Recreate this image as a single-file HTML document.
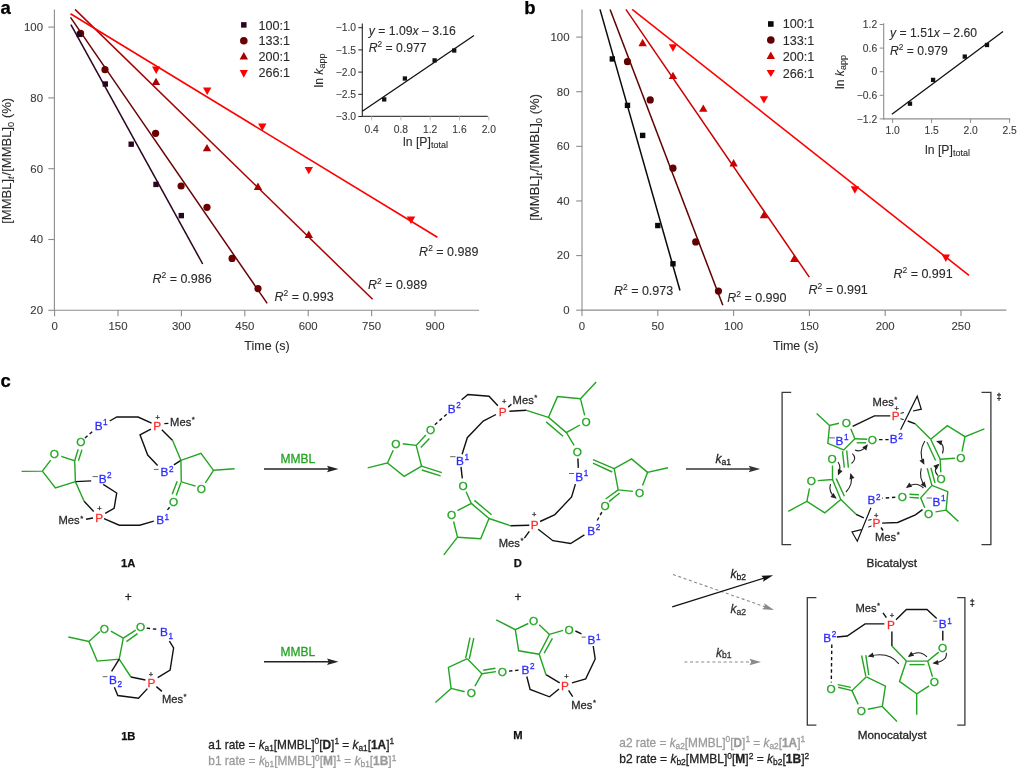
<!DOCTYPE html><html><head><meta charset="utf-8"><style>html,body{margin:0;padding:0;background:#fff;}svg{display:block;will-change:transform;}text{font-family:"Liberation Sans", sans-serif;}</style></head><body>
<svg width="1017" height="768" viewBox="0 0 1017 768">
<rect width="1017" height="768" fill="#fff"/>
<text x="0.5" y="14" font-size="18.5" fill="#000" text-anchor="start" font-weight="bold" font-style="normal" stroke="#000" stroke-width="0.25">a</text>
<polyline points="54.4,9.5 54.4,310.8" fill="none" stroke="#8c8c8c" stroke-width="1.1" stroke-linecap="butt" stroke-linejoin="miter"/>
<polyline points="53.9,310.3 479,310.3" fill="none" stroke="#8c8c8c" stroke-width="1.1" stroke-linecap="butt" stroke-linejoin="miter"/>
<polyline points="48.3,27.1 54.4,27.1" fill="none" stroke="#8c8c8c" stroke-width="1.1" stroke-linecap="butt" stroke-linejoin="miter"/>
<text x="43" y="31" font-size="11.4" fill="#3a3a3a" text-anchor="end" font-weight="normal" font-style="normal" stroke="#3a3a3a" stroke-width="0.1">100</text>
<polyline points="48.3,97.9 54.4,97.9" fill="none" stroke="#8c8c8c" stroke-width="1.1" stroke-linecap="butt" stroke-linejoin="miter"/>
<text x="43" y="101.8" font-size="11.4" fill="#3a3a3a" text-anchor="end" font-weight="normal" font-style="normal" stroke="#3a3a3a" stroke-width="0.1">80</text>
<polyline points="48.3,168.7 54.4,168.7" fill="none" stroke="#8c8c8c" stroke-width="1.1" stroke-linecap="butt" stroke-linejoin="miter"/>
<text x="43" y="172.6" font-size="11.4" fill="#3a3a3a" text-anchor="end" font-weight="normal" font-style="normal" stroke="#3a3a3a" stroke-width="0.1">60</text>
<polyline points="48.3,239.5 54.4,239.5" fill="none" stroke="#8c8c8c" stroke-width="1.1" stroke-linecap="butt" stroke-linejoin="miter"/>
<text x="43" y="243.4" font-size="11.4" fill="#3a3a3a" text-anchor="end" font-weight="normal" font-style="normal" stroke="#3a3a3a" stroke-width="0.1">40</text>
<polyline points="48.3,310.3 54.4,310.3" fill="none" stroke="#8c8c8c" stroke-width="1.1" stroke-linecap="butt" stroke-linejoin="miter"/>
<text x="43" y="314.2" font-size="11.4" fill="#3a3a3a" text-anchor="end" font-weight="normal" font-style="normal" stroke="#3a3a3a" stroke-width="0.1">20</text>
<polyline points="54.6,310.3 54.6,316.3" fill="none" stroke="#8c8c8c" stroke-width="1.1" stroke-linecap="butt" stroke-linejoin="miter"/>
<text x="54.6" y="330.2" font-size="11.4" fill="#3a3a3a" text-anchor="middle" font-weight="normal" font-style="normal" stroke="#3a3a3a" stroke-width="0.1">0</text>
<polyline points="118,310.3 118,316.3" fill="none" stroke="#8c8c8c" stroke-width="1.1" stroke-linecap="butt" stroke-linejoin="miter"/>
<text x="118" y="330.2" font-size="11.4" fill="#3a3a3a" text-anchor="middle" font-weight="normal" font-style="normal" stroke="#3a3a3a" stroke-width="0.1">150</text>
<polyline points="181.41,310.3 181.41,316.3" fill="none" stroke="#8c8c8c" stroke-width="1.1" stroke-linecap="butt" stroke-linejoin="miter"/>
<text x="181.41" y="330.2" font-size="11.4" fill="#3a3a3a" text-anchor="middle" font-weight="normal" font-style="normal" stroke="#3a3a3a" stroke-width="0.1">300</text>
<polyline points="244.81,310.3 244.81,316.3" fill="none" stroke="#8c8c8c" stroke-width="1.1" stroke-linecap="butt" stroke-linejoin="miter"/>
<text x="244.81" y="330.2" font-size="11.4" fill="#3a3a3a" text-anchor="middle" font-weight="normal" font-style="normal" stroke="#3a3a3a" stroke-width="0.1">450</text>
<polyline points="308.22,310.3 308.22,316.3" fill="none" stroke="#8c8c8c" stroke-width="1.1" stroke-linecap="butt" stroke-linejoin="miter"/>
<text x="308.22" y="330.2" font-size="11.4" fill="#3a3a3a" text-anchor="middle" font-weight="normal" font-style="normal" stroke="#3a3a3a" stroke-width="0.1">600</text>
<polyline points="371.63,310.3 371.63,316.3" fill="none" stroke="#8c8c8c" stroke-width="1.1" stroke-linecap="butt" stroke-linejoin="miter"/>
<text x="371.63" y="330.2" font-size="11.4" fill="#3a3a3a" text-anchor="middle" font-weight="normal" font-style="normal" stroke="#3a3a3a" stroke-width="0.1">750</text>
<polyline points="435.03,310.3 435.03,316.3" fill="none" stroke="#8c8c8c" stroke-width="1.1" stroke-linecap="butt" stroke-linejoin="miter"/>
<text x="435.03" y="330.2" font-size="11.4" fill="#3a3a3a" text-anchor="middle" font-weight="normal" font-style="normal" stroke="#3a3a3a" stroke-width="0.1">900</text>
<text x="267" y="349.8" font-size="12.5" fill="#2a2a2a" text-anchor="middle" font-weight="normal" font-style="normal" stroke="#2a2a2a" stroke-width="0.1">Time (s)</text>
<text transform="translate(11.4,160.8) rotate(-90)" font-size="12.6" fill="#2a2a2a" text-anchor="middle" textLength="126" lengthAdjust="spacingAndGlyphs" stroke="#2a2a2a" stroke-width="0.1">[MMBL]<tspan font-size="9" font-style="italic" dy="2.5">t</tspan><tspan dy="-2.5" dx="0.8">/[MMBL]</tspan><tspan font-size="9" dy="2.5">0</tspan><tspan dy="-2.5"> (%)</tspan></text>
<polyline points="70.9,24.6 202.7,264" fill="none" stroke="#2a0520" stroke-width="1.5" stroke-linecap="butt" stroke-linejoin="miter"/>
<polyline points="70.5,17.3 267.2,303.4" fill="none" stroke="#6a0000" stroke-width="1.5" stroke-linecap="butt" stroke-linejoin="miter"/>
<polyline points="75,9.4 372.6,299.3" fill="none" stroke="#a80000" stroke-width="1.5" stroke-linecap="butt" stroke-linejoin="miter"/>
<polyline points="70.5,13.8 437.4,237.3" fill="none" stroke="#ff0000" stroke-width="1.6" stroke-linecap="butt" stroke-linejoin="miter"/>
<circle cx="80.6" cy="33.4" r="3.6" fill="#6a0000"/>
<circle cx="105" cy="69.7" r="3.6" fill="#6a0000"/>
<circle cx="155.6" cy="133.3" r="3.6" fill="#6a0000"/>
<circle cx="181.1" cy="186" r="3.6" fill="#6a0000"/>
<circle cx="207" cy="207.3" r="3.6" fill="#6a0000"/>
<circle cx="232.1" cy="258.4" r="3.6" fill="#6a0000"/>
<circle cx="258" cy="288.6" r="3.6" fill="#6a0000"/>
<rect x="76.6" y="31.7" width="5.4" height="5.4" fill="#2a0520"/>
<rect x="102.6" y="81.3" width="5.4" height="5.4" fill="#2a0520"/>
<rect x="128.5" y="141.5" width="5.4" height="5.4" fill="#2a0520"/>
<rect x="153.3" y="181.7" width="5.4" height="5.4" fill="#2a0520"/>
<rect x="178.6" y="212.9" width="5.4" height="5.4" fill="#2a0520"/>
<polygon points="151.8,85.1 160.2,85.1 156,77.7" fill="#a80000"/>
<polygon points="202.8,151.3 211.2,151.3 207,143.9" fill="#a80000"/>
<polygon points="253.8,189.9 262.2,189.9 258,182.5" fill="#a80000"/>
<polygon points="304.6,237.9 313,237.9 308.8,230.5" fill="#a80000"/>
<polygon points="152,66.5 160.4,66.5 156.2,73.9" fill="#ff0000"/>
<polygon points="203,87.5 211.4,87.5 207.2,94.9" fill="#ff0000"/>
<polygon points="258.1,123.6 266.5,123.6 262.3,131" fill="#ff0000"/>
<polygon points="304.6,166.9 313,166.9 308.8,174.3" fill="#ff0000"/>
<polygon points="406.8,216.6 415.2,216.6 411,224" fill="#ff0000"/>
<text x="152.4" y="283.2" font-size="12.5" fill="#2a2a2a" stroke="#2a2a2a" stroke-width="0.1"><tspan font-style="italic">R</tspan><tspan font-size="8.5" dy="-5">2</tspan><tspan dy="5"> = 0.986</tspan></text>
<text x="274.4" y="301.3" font-size="12.5" fill="#2a2a2a" stroke="#2a2a2a" stroke-width="0.1"><tspan font-style="italic">R</tspan><tspan font-size="8.5" dy="-5">2</tspan><tspan dy="5"> = 0.993</tspan></text>
<text x="367.9" y="288.7" font-size="12.5" fill="#2a2a2a" stroke="#2a2a2a" stroke-width="0.1"><tspan font-style="italic">R</tspan><tspan font-size="8.5" dy="-5">2</tspan><tspan dy="5"> = 0.989</tspan></text>
<text x="419.1" y="256.3" font-size="12.5" fill="#2a2a2a" stroke="#2a2a2a" stroke-width="0.1"><tspan font-style="italic">R</tspan><tspan font-size="8.5" dy="-5">2</tspan><tspan dy="5"> = 0.989</tspan></text>
<rect x="241.05" y="22.15" width="5.5" height="5.5" fill="#2a0520"/>
<circle cx="243.8" cy="40.7" r="3.8" fill="#6a0000"/>
<polygon points="239.6,59.6 248,59.6 243.8,52" fill="#a80000"/>
<polygon points="239.7,70.1 247.9,70.1 243.8,77.7" fill="#ff0000"/>
<text x="258.6" y="29.6" font-size="12.6" fill="#2a2a2a" text-anchor="start" font-weight="normal" font-style="normal" stroke="#2a2a2a" stroke-width="0.1">100:1</text>
<text x="258.6" y="45.4" font-size="12.6" fill="#2a2a2a" text-anchor="start" font-weight="normal" font-style="normal" stroke="#2a2a2a" stroke-width="0.1">133:1</text>
<text x="258.6" y="61.2" font-size="12.6" fill="#2a2a2a" text-anchor="start" font-weight="normal" font-style="normal" stroke="#2a2a2a" stroke-width="0.1">200:1</text>
<text x="258.6" y="77" font-size="12.6" fill="#2a2a2a" text-anchor="start" font-weight="normal" font-style="normal" stroke="#2a2a2a" stroke-width="0.1">266:1</text>
<polyline points="362.3,23.4 362.3,116.9" fill="none" stroke="#222" stroke-width="1.1" stroke-linecap="butt" stroke-linejoin="miter"/>
<polyline points="361.8,116.4 487.8,116.4" fill="none" stroke="#444" stroke-width="1.1" stroke-linecap="butt" stroke-linejoin="miter"/>
<polyline points="358.3,27.7 362.3,27.7" fill="none" stroke="#222" stroke-width="1" stroke-linecap="butt" stroke-linejoin="miter"/>
<text x="356" y="31.3" font-size="10.3" fill="#3a3a3a" text-anchor="end" font-weight="normal" font-style="normal" stroke="#3a3a3a" stroke-width="0.1">−1.0</text>
<polyline points="358.3,49.9 362.3,49.9" fill="none" stroke="#222" stroke-width="1" stroke-linecap="butt" stroke-linejoin="miter"/>
<text x="356" y="53.5" font-size="10.3" fill="#3a3a3a" text-anchor="end" font-weight="normal" font-style="normal" stroke="#3a3a3a" stroke-width="0.1">−1.5</text>
<polyline points="358.3,72.1 362.3,72.1" fill="none" stroke="#222" stroke-width="1" stroke-linecap="butt" stroke-linejoin="miter"/>
<text x="356" y="75.7" font-size="10.3" fill="#3a3a3a" text-anchor="end" font-weight="normal" font-style="normal" stroke="#3a3a3a" stroke-width="0.1">−2.0</text>
<polyline points="358.3,94.3 362.3,94.3" fill="none" stroke="#222" stroke-width="1" stroke-linecap="butt" stroke-linejoin="miter"/>
<text x="356" y="97.9" font-size="10.3" fill="#3a3a3a" text-anchor="end" font-weight="normal" font-style="normal" stroke="#3a3a3a" stroke-width="0.1">−2.5</text>
<polyline points="358.3,116.5 362.3,116.5" fill="none" stroke="#222" stroke-width="1" stroke-linecap="butt" stroke-linejoin="miter"/>
<text x="356" y="120.1" font-size="10.3" fill="#3a3a3a" text-anchor="end" font-weight="normal" font-style="normal" stroke="#3a3a3a" stroke-width="0.1">−3.0</text>
<polyline points="371.6,116.4 371.6,120.4" fill="none" stroke="#bbb" stroke-width="1" stroke-linecap="butt" stroke-linejoin="miter"/>
<text x="371.6" y="132.8" font-size="10.3" fill="#3a3a3a" text-anchor="middle" font-weight="normal" font-style="normal" stroke="#3a3a3a" stroke-width="0.1">0.4</text>
<polyline points="400.9,116.4 400.9,120.4" fill="none" stroke="#bbb" stroke-width="1" stroke-linecap="butt" stroke-linejoin="miter"/>
<text x="400.9" y="132.8" font-size="10.3" fill="#3a3a3a" text-anchor="middle" font-weight="normal" font-style="normal" stroke="#3a3a3a" stroke-width="0.1">0.8</text>
<polyline points="430.2,116.4 430.2,120.4" fill="none" stroke="#bbb" stroke-width="1" stroke-linecap="butt" stroke-linejoin="miter"/>
<text x="430.2" y="132.8" font-size="10.3" fill="#3a3a3a" text-anchor="middle" font-weight="normal" font-style="normal" stroke="#3a3a3a" stroke-width="0.1">1.2</text>
<polyline points="459.5,116.4 459.5,120.4" fill="none" stroke="#bbb" stroke-width="1" stroke-linecap="butt" stroke-linejoin="miter"/>
<text x="459.5" y="132.8" font-size="10.3" fill="#3a3a3a" text-anchor="middle" font-weight="normal" font-style="normal" stroke="#3a3a3a" stroke-width="0.1">1.6</text>
<polyline points="488.8,116.4 488.8,120.4" fill="none" stroke="#bbb" stroke-width="1" stroke-linecap="butt" stroke-linejoin="miter"/>
<text x="488.8" y="132.8" font-size="10.3" fill="#3a3a3a" text-anchor="middle" font-weight="normal" font-style="normal" stroke="#3a3a3a" stroke-width="0.1">2.0</text>
<polyline points="362.3,111.2 474,35.5" fill="none" stroke="#111" stroke-width="1.3" stroke-linecap="butt" stroke-linejoin="miter"/>
<rect x="382.05" y="97.25" width="4.3" height="4.3" fill="#111"/>
<rect x="402.75" y="76.35" width="4.3" height="4.3" fill="#111"/>
<rect x="432.45" y="58.25" width="4.3" height="4.3" fill="#111"/>
<rect x="452.05" y="48.35" width="4.3" height="4.3" fill="#111"/>
<text x="368.8" y="34.6" font-size="12.2" fill="#2a2a2a" stroke="#2a2a2a" stroke-width="0.1"><tspan font-style="italic">y</tspan> = 1.09<tspan font-style="italic">x</tspan> – 3.16</text>
<text x="368.8" y="52.4" font-size="12.2" fill="#2a2a2a" stroke="#2a2a2a" stroke-width="0.1"><tspan font-style="italic">R</tspan><tspan font-size="8.3" dy="-5">2</tspan><tspan dy="5"> = 0.977</tspan></text>
<text transform="translate(322.5,70.5) rotate(-90)" font-size="12.2" fill="#2a2a2a" text-anchor="middle" stroke="#2a2a2a" stroke-width="0.1">ln <tspan font-style="italic">k</tspan><tspan font-size="9" dy="2.5">app</tspan></text>
<text x="425.5" y="145.8" font-size="12.2" fill="#2a2a2a" text-anchor="middle" stroke="#2a2a2a" stroke-width="0.1">ln [P]<tspan font-size="9" dy="2.5">total</tspan></text>
<text x="524.2" y="14.2" font-size="18.5" fill="#000" text-anchor="start" font-weight="bold" font-style="normal" stroke="#000" stroke-width="0.25">b</text>
<polyline points="582,9.4 582,310.6" fill="none" stroke="#8c8c8c" stroke-width="1.1" stroke-linecap="butt" stroke-linejoin="miter"/>
<polyline points="581.5,310.1 1006.4,310.1" fill="none" stroke="#8c8c8c" stroke-width="1.1" stroke-linecap="butt" stroke-linejoin="miter"/>
<polyline points="576.2,37.1 582,37.1" fill="none" stroke="#8c8c8c" stroke-width="1.1" stroke-linecap="butt" stroke-linejoin="miter"/>
<text x="569.5" y="41" font-size="11.4" fill="#3a3a3a" text-anchor="end" font-weight="normal" font-style="normal" stroke="#3a3a3a" stroke-width="0.1">100</text>
<polyline points="576.2,91.72 582,91.72" fill="none" stroke="#8c8c8c" stroke-width="1.1" stroke-linecap="butt" stroke-linejoin="miter"/>
<text x="569.5" y="95.62" font-size="11.4" fill="#3a3a3a" text-anchor="end" font-weight="normal" font-style="normal" stroke="#3a3a3a" stroke-width="0.1">80</text>
<polyline points="576.2,146.34 582,146.34" fill="none" stroke="#8c8c8c" stroke-width="1.1" stroke-linecap="butt" stroke-linejoin="miter"/>
<text x="569.5" y="150.24" font-size="11.4" fill="#3a3a3a" text-anchor="end" font-weight="normal" font-style="normal" stroke="#3a3a3a" stroke-width="0.1">60</text>
<polyline points="576.2,200.96 582,200.96" fill="none" stroke="#8c8c8c" stroke-width="1.1" stroke-linecap="butt" stroke-linejoin="miter"/>
<text x="569.5" y="204.86" font-size="11.4" fill="#3a3a3a" text-anchor="end" font-weight="normal" font-style="normal" stroke="#3a3a3a" stroke-width="0.1">40</text>
<polyline points="576.2,255.58 582,255.58" fill="none" stroke="#8c8c8c" stroke-width="1.1" stroke-linecap="butt" stroke-linejoin="miter"/>
<text x="569.5" y="259.48" font-size="11.4" fill="#3a3a3a" text-anchor="end" font-weight="normal" font-style="normal" stroke="#3a3a3a" stroke-width="0.1">20</text>
<polyline points="576.2,310.2 582,310.2" fill="none" stroke="#8c8c8c" stroke-width="1.1" stroke-linecap="butt" stroke-linejoin="miter"/>
<text x="569.5" y="314.1" font-size="11.4" fill="#3a3a3a" text-anchor="end" font-weight="normal" font-style="normal" stroke="#3a3a3a" stroke-width="0.1">0</text>
<polyline points="582,310.1 582,316.1" fill="none" stroke="#8c8c8c" stroke-width="1.1" stroke-linecap="butt" stroke-linejoin="miter"/>
<text x="582" y="330.2" font-size="11.4" fill="#3a3a3a" text-anchor="middle" font-weight="normal" font-style="normal" stroke="#3a3a3a" stroke-width="0.1">0</text>
<polyline points="657.8,310.1 657.8,316.1" fill="none" stroke="#8c8c8c" stroke-width="1.1" stroke-linecap="butt" stroke-linejoin="miter"/>
<text x="657.8" y="330.2" font-size="11.4" fill="#3a3a3a" text-anchor="middle" font-weight="normal" font-style="normal" stroke="#3a3a3a" stroke-width="0.1">50</text>
<polyline points="733.6,310.1 733.6,316.1" fill="none" stroke="#8c8c8c" stroke-width="1.1" stroke-linecap="butt" stroke-linejoin="miter"/>
<text x="733.6" y="330.2" font-size="11.4" fill="#3a3a3a" text-anchor="middle" font-weight="normal" font-style="normal" stroke="#3a3a3a" stroke-width="0.1">100</text>
<polyline points="809.4,310.1 809.4,316.1" fill="none" stroke="#8c8c8c" stroke-width="1.1" stroke-linecap="butt" stroke-linejoin="miter"/>
<text x="809.4" y="330.2" font-size="11.4" fill="#3a3a3a" text-anchor="middle" font-weight="normal" font-style="normal" stroke="#3a3a3a" stroke-width="0.1">150</text>
<polyline points="885.2,310.1 885.2,316.1" fill="none" stroke="#8c8c8c" stroke-width="1.1" stroke-linecap="butt" stroke-linejoin="miter"/>
<text x="885.2" y="330.2" font-size="11.4" fill="#3a3a3a" text-anchor="middle" font-weight="normal" font-style="normal" stroke="#3a3a3a" stroke-width="0.1">200</text>
<polyline points="961,310.1 961,316.1" fill="none" stroke="#8c8c8c" stroke-width="1.1" stroke-linecap="butt" stroke-linejoin="miter"/>
<text x="961" y="330.2" font-size="11.4" fill="#3a3a3a" text-anchor="middle" font-weight="normal" font-style="normal" stroke="#3a3a3a" stroke-width="0.1">250</text>
<text x="795.7" y="350" font-size="12.5" fill="#2a2a2a" text-anchor="middle" font-weight="normal" font-style="normal" stroke="#2a2a2a" stroke-width="0.1">Time (s)</text>
<text transform="translate(539.3,157.3) rotate(-90)" font-size="12.6" fill="#2a2a2a" text-anchor="middle" textLength="127" lengthAdjust="spacingAndGlyphs" stroke="#2a2a2a" stroke-width="0.1">[MMBL]<tspan font-size="9" font-style="italic" dy="2.5">t</tspan><tspan dy="-2.5" dx="0.8">/[MMBL]</tspan><tspan font-size="9" dy="2.5">0</tspan><tspan dy="-2.5"> (%)</tspan></text>
<polyline points="600,9.4 680,290.5" fill="none" stroke="#0a0a0a" stroke-width="1.5" stroke-linecap="butt" stroke-linejoin="miter"/>
<polyline points="610.1,9.4 722.8,305.3" fill="none" stroke="#600000" stroke-width="1.5" stroke-linecap="butt" stroke-linejoin="miter"/>
<polyline points="625.9,9.4 809.3,277.2" fill="none" stroke="#c80000" stroke-width="1.5" stroke-linecap="butt" stroke-linejoin="miter"/>
<polyline points="632.2,9.4 969,275.4" fill="none" stroke="#ff0000" stroke-width="1.6" stroke-linecap="butt" stroke-linejoin="miter"/>
<rect x="609.62" y="56.25" width="5.4" height="5.4" fill="#0a0a0a"/>
<rect x="624.78" y="102.67" width="5.4" height="5.4" fill="#0a0a0a"/>
<rect x="639.94" y="132.72" width="5.4" height="5.4" fill="#0a0a0a"/>
<rect x="655.1" y="222.84" width="5.4" height="5.4" fill="#0a0a0a"/>
<rect x="670.26" y="261.07" width="5.4" height="5.4" fill="#0a0a0a"/>
<circle cx="627.48" cy="61.68" r="3.6" fill="#600000"/>
<circle cx="650.22" cy="99.91" r="3.6" fill="#600000"/>
<circle cx="672.96" cy="168.19" r="3.6" fill="#600000"/>
<circle cx="695.7" cy="241.92" r="3.6" fill="#600000"/>
<circle cx="718.44" cy="291.08" r="3.6" fill="#600000"/>
<polygon points="638.44,46.26 646.84,46.26 642.64,38.86" fill="#c80000"/>
<polygon points="668.76,79.03 677.16,79.03 672.96,71.63" fill="#c80000"/>
<polygon points="699.08,111.81 707.48,111.81 703.28,104.41" fill="#c80000"/>
<polygon points="729.4,166.43 737.8,166.43 733.6,159.03" fill="#c80000"/>
<polygon points="759.72,218.31 768.12,218.31 763.92,210.91" fill="#c80000"/>
<polygon points="790.04,262.01 798.44,262.01 794.24,254.61" fill="#c80000"/>
<polygon points="668.76,44.32 677.16,44.32 672.96,51.72" fill="#ff0000"/>
<polygon points="759.72,96.21 768.12,96.21 763.92,103.61" fill="#ff0000"/>
<polygon points="850.68,186.34 859.08,186.34 854.88,193.74" fill="#ff0000"/>
<polygon points="941.64,254.61 950.04,254.61 945.84,262.01" fill="#ff0000"/>
<text x="613.9" y="295" font-size="12.5" fill="#2a2a2a" stroke="#2a2a2a" stroke-width="0.1"><tspan font-style="italic">R</tspan><tspan font-size="8.5" dy="-5">2</tspan><tspan dy="5"> = 0.973</tspan></text>
<text x="727.2" y="302.3" font-size="12.5" fill="#2a2a2a" stroke="#2a2a2a" stroke-width="0.1"><tspan font-style="italic">R</tspan><tspan font-size="8.5" dy="-5">2</tspan><tspan dy="5"> = 0.990</tspan></text>
<text x="808.5" y="294.4" font-size="12.5" fill="#2a2a2a" stroke="#2a2a2a" stroke-width="0.1"><tspan font-style="italic">R</tspan><tspan font-size="8.5" dy="-5">2</tspan><tspan dy="5"> = 0.991</tspan></text>
<text x="893.4" y="278.3" font-size="12.5" fill="#2a2a2a" stroke="#2a2a2a" stroke-width="0.1"><tspan font-style="italic">R</tspan><tspan font-size="8.5" dy="-5">2</tspan><tspan dy="5"> = 0.991</tspan></text>
<rect x="768" y="21.2" width="5.6" height="5.6" fill="#0a0a0a"/>
<circle cx="770.8" cy="40" r="3.8" fill="#600000"/>
<polygon points="766.6,59.1 775,59.1 770.8,51.5" fill="#c80000"/>
<polygon points="766.6,69.9 775,69.9 770.8,76.9" fill="#ff0000"/>
<text x="782.7" y="28.4" font-size="12.6" fill="#2a2a2a" text-anchor="start" font-weight="normal" font-style="normal" stroke="#2a2a2a" stroke-width="0.1">100:1</text>
<text x="782.7" y="44.8" font-size="12.6" fill="#2a2a2a" text-anchor="start" font-weight="normal" font-style="normal" stroke="#2a2a2a" stroke-width="0.1">133:1</text>
<text x="782.7" y="61.2" font-size="12.6" fill="#2a2a2a" text-anchor="start" font-weight="normal" font-style="normal" stroke="#2a2a2a" stroke-width="0.1">200:1</text>
<text x="782.7" y="77.6" font-size="12.6" fill="#2a2a2a" text-anchor="start" font-weight="normal" font-style="normal" stroke="#2a2a2a" stroke-width="0.1">266:1</text>
<polyline points="883.7,23.3 883.7,119.4" fill="none" stroke="#8c8c8c" stroke-width="1.1" stroke-linecap="butt" stroke-linejoin="miter"/>
<polyline points="883.2,118.9 1010.2,118.9" fill="none" stroke="#8c8c8c" stroke-width="1.1" stroke-linecap="butt" stroke-linejoin="miter"/>
<polyline points="879.7,24.5 883.7,24.5" fill="none" stroke="#8c8c8c" stroke-width="1" stroke-linecap="butt" stroke-linejoin="miter"/>
<text x="877.2" y="28.1" font-size="10.3" fill="#3a3a3a" text-anchor="end" font-weight="normal" font-style="normal" stroke="#3a3a3a" stroke-width="0.1">1.2</text>
<polyline points="879.7,48.1 883.7,48.1" fill="none" stroke="#8c8c8c" stroke-width="1" stroke-linecap="butt" stroke-linejoin="miter"/>
<text x="877.2" y="51.7" font-size="10.3" fill="#3a3a3a" text-anchor="end" font-weight="normal" font-style="normal" stroke="#3a3a3a" stroke-width="0.1">0.6</text>
<polyline points="879.7,71.7 883.7,71.7" fill="none" stroke="#8c8c8c" stroke-width="1" stroke-linecap="butt" stroke-linejoin="miter"/>
<text x="877.2" y="75.3" font-size="10.3" fill="#3a3a3a" text-anchor="end" font-weight="normal" font-style="normal" stroke="#3a3a3a" stroke-width="0.1">0</text>
<polyline points="879.7,95.3 883.7,95.3" fill="none" stroke="#8c8c8c" stroke-width="1" stroke-linecap="butt" stroke-linejoin="miter"/>
<text x="877.2" y="98.9" font-size="10.3" fill="#3a3a3a" text-anchor="end" font-weight="normal" font-style="normal" stroke="#3a3a3a" stroke-width="0.1">−0.6</text>
<polyline points="879.7,118.9 883.7,118.9" fill="none" stroke="#8c8c8c" stroke-width="1" stroke-linecap="butt" stroke-linejoin="miter"/>
<text x="877.2" y="122.5" font-size="10.3" fill="#3a3a3a" text-anchor="end" font-weight="normal" font-style="normal" stroke="#3a3a3a" stroke-width="0.1">−1.2</text>
<polyline points="892.6,118.9 892.6,122.9" fill="none" stroke="#8c8c8c" stroke-width="1" stroke-linecap="butt" stroke-linejoin="miter"/>
<text x="892.6" y="133.5" font-size="10.3" fill="#3a3a3a" text-anchor="middle" font-weight="normal" font-style="normal" stroke="#3a3a3a" stroke-width="0.1">1.0</text>
<polyline points="931.6,118.9 931.6,122.9" fill="none" stroke="#8c8c8c" stroke-width="1" stroke-linecap="butt" stroke-linejoin="miter"/>
<text x="931.6" y="133.5" font-size="10.3" fill="#3a3a3a" text-anchor="middle" font-weight="normal" font-style="normal" stroke="#3a3a3a" stroke-width="0.1">1.5</text>
<polyline points="970.6,118.9 970.6,122.9" fill="none" stroke="#8c8c8c" stroke-width="1" stroke-linecap="butt" stroke-linejoin="miter"/>
<text x="970.6" y="133.5" font-size="10.3" fill="#3a3a3a" text-anchor="middle" font-weight="normal" font-style="normal" stroke="#3a3a3a" stroke-width="0.1">2.0</text>
<polyline points="1009.6,118.9 1009.6,122.9" fill="none" stroke="#8c8c8c" stroke-width="1" stroke-linecap="butt" stroke-linejoin="miter"/>
<text x="1009.6" y="133.5" font-size="10.3" fill="#3a3a3a" text-anchor="middle" font-weight="normal" font-style="normal" stroke="#3a3a3a" stroke-width="0.1">2.5</text>
<polyline points="891.9,114.2 1003,31.5" fill="none" stroke="#111" stroke-width="1.3" stroke-linecap="butt" stroke-linejoin="miter"/>
<rect x="907.85" y="101.55" width="4.3" height="4.3" fill="#111"/>
<rect x="930.95" y="77.75" width="4.3" height="4.3" fill="#111"/>
<rect x="962.65" y="54.45" width="4.3" height="4.3" fill="#111"/>
<rect x="984.85" y="42.85" width="4.3" height="4.3" fill="#111"/>
<text x="890" y="37.3" font-size="12.2" fill="#2a2a2a" stroke="#2a2a2a" stroke-width="0.1"><tspan font-style="italic">y</tspan> = 1.51<tspan font-style="italic">x</tspan> – 2.60</text>
<text x="890" y="55.2" font-size="12.2" fill="#2a2a2a" stroke="#2a2a2a" stroke-width="0.1"><tspan font-style="italic">R</tspan><tspan font-size="8.3" dy="-5">2</tspan><tspan dy="5"> = 0.979</tspan></text>
<text transform="translate(843.5,72.0) rotate(-90)" font-size="12.2" fill="#2a2a2a" text-anchor="middle" stroke="#2a2a2a" stroke-width="0.1">ln <tspan font-style="italic">k</tspan><tspan font-size="9" dy="2.5">app</tspan></text>
<text x="947.5" y="153.8" font-size="12.2" fill="#2a2a2a" text-anchor="middle" stroke="#2a2a2a" stroke-width="0.1">ln [P]<tspan font-size="9" dy="2.5">total</tspan></text>
<text x="0.5" y="386.5" font-size="18.5" fill="#000" text-anchor="start" font-weight="bold" font-style="normal" stroke="#000" stroke-width="0.25">c</text>
<text x="98.6" y="429.85" font-size="11.8" fill="#2a2aff" text-anchor="middle" font-weight="normal" font-style="normal" stroke="#2a2aff" stroke-width="0.28">B</text>
<text x="103.1" y="425" font-size="8.2" fill="#2a2aff" text-anchor="start" font-weight="normal" font-style="normal" stroke="#2a2aff" stroke-width="0.28">1</text>
<polyline points="109.7,421 116.8,417 138.1,417 151.6,423.2" fill="none" stroke="#111111" stroke-width="1.4" stroke-linecap="butt" stroke-linejoin="miter"/>
<text x="157.3" y="429.85" font-size="11.8" fill="#ff2a2a" text-anchor="middle" font-weight="normal" font-style="normal" stroke="#ff2a2a" stroke-width="0.28">P</text>
<text x="157.6" y="420.4" font-size="7.5" fill="#222" text-anchor="middle" font-weight="normal" font-style="normal" stroke="#222" stroke-width="0.28">+</text>
<polyline points="164.3,423.6 168.4,423.4" fill="none" stroke="#111111" stroke-width="1.4" stroke-linecap="butt" stroke-linejoin="miter"/>
<text x="170.1" y="426.3" font-size="11.2" fill="#2a2a2a" text-anchor="start" stroke="#2a2a2a" stroke-width="0.28">Mes<tspan font-size="7.8" dx="0.5" dy="-3.9">*</tspan></text>
<polyline points="150.9,429.2 140,434.8 147.7,455 157.6,465.4" fill="none" stroke="#111111" stroke-width="1.4" stroke-linecap="butt" stroke-linejoin="miter"/>
<text x="164.4" y="476.45" font-size="11.8" fill="#2a2aff" text-anchor="middle" font-weight="normal" font-style="normal" stroke="#2a2aff" stroke-width="0.28">B</text>
<text x="168.9" y="471.6" font-size="8.2" fill="#2a2aff" text-anchor="start" font-weight="normal" font-style="normal" stroke="#2a2aff" stroke-width="0.28">2</text>
<polyline points="153.9,469.4 158.6,469.4" fill="none" stroke="#666" stroke-width="1" stroke-linecap="butt" stroke-linejoin="miter"/>
<polyline points="173.9,464.8 180.9,460.3" fill="none" stroke="#111111" stroke-width="1.4" stroke-linecap="butt" stroke-linejoin="miter"/>
<polyline points="161.8,429.8 172.6,440.4" fill="none" stroke="#111111" stroke-width="1.4" stroke-linecap="butt" stroke-linejoin="miter"/>
<polyline points="172.6,440.4 180.9,460.3" fill="none" stroke="#22a522" stroke-width="1.4" stroke-linecap="butt" stroke-linejoin="miter"/>
<polyline points="180.9,460.3 201,453.4 213.5,470.3 234.6,468.8" fill="none" stroke="#22a522" stroke-width="1.4" stroke-linecap="butt" stroke-linejoin="miter"/>
<polyline points="213.5,470.3 205.4,482.8" fill="none" stroke="#22a522" stroke-width="1.4" stroke-linecap="butt" stroke-linejoin="miter"/>
<text x="201.4" y="493.25" font-size="11.8" fill="#22a522" text-anchor="middle" font-weight="normal" font-style="normal" stroke="#22a522" stroke-width="0.28">O</text>
<polyline points="180.9,460.3 181.3,481.8 195.6,486.2" fill="none" stroke="#22a522" stroke-width="1.4" stroke-linecap="butt" stroke-linejoin="miter"/>
<polyline points="177.2,481.2 172.2,494.2" fill="none" stroke="#22a522" stroke-width="1.4" stroke-linecap="butt" stroke-linejoin="miter"/>
<polyline points="181,482.6 176.2,495.6" fill="none" stroke="#22a522" stroke-width="1.4" stroke-linecap="butt" stroke-linejoin="miter"/>
<text x="173.7" y="506.25" font-size="11.8" fill="#22a522" text-anchor="middle" font-weight="normal" font-style="normal" stroke="#22a522" stroke-width="0.28">O</text>
<polyline points="169.6,507.2 166.8,510.6" fill="none" stroke="#111111" stroke-width="1.4" stroke-linecap="butt" stroke-linejoin="miter" stroke-dasharray="3.4,2.8"/>
<text x="160.1" y="524.45" font-size="11.8" fill="#2a2aff" text-anchor="middle" font-weight="normal" font-style="normal" stroke="#2a2aff" stroke-width="0.28">B</text>
<text x="164.6" y="519.6" font-size="8.2" fill="#2a2aff" text-anchor="start" font-weight="normal" font-style="normal" stroke="#2a2aff" stroke-width="0.28">1</text>
<polyline points="153.8,521.2 139.7,525.2 119.3,525.2 104,518.6" fill="none" stroke="#111111" stroke-width="1.4" stroke-linecap="butt" stroke-linejoin="miter"/>
<text x="99.1" y="521.65" font-size="11.8" fill="#ff2a2a" text-anchor="middle" font-weight="normal" font-style="normal" stroke="#ff2a2a" stroke-width="0.28">P</text>
<text x="99.4" y="511.1" font-size="7.5" fill="#222" text-anchor="middle" font-weight="normal" font-style="normal" stroke="#222" stroke-width="0.28">+</text>
<polyline points="105.2,513.4 114.1,508.3 116.7,493 103.2,484.4" fill="none" stroke="#111111" stroke-width="1.4" stroke-linecap="butt" stroke-linejoin="miter"/>
<polyline points="93.7,511.5 84.1,501.3" fill="none" stroke="#111111" stroke-width="1.4" stroke-linecap="butt" stroke-linejoin="miter"/>
<polyline points="84.1,501.3 75.4,481.6" fill="none" stroke="#22a522" stroke-width="1.4" stroke-linecap="butt" stroke-linejoin="miter"/>
<polyline points="86,519.2 93,518" fill="none" stroke="#111111" stroke-width="1.4" stroke-linecap="butt" stroke-linejoin="miter"/>
<text x="83.2" y="524.4" font-size="11.2" fill="#2a2a2a" text-anchor="end" stroke="#2a2a2a" stroke-width="0.28">Mes<tspan font-size="7.8" dx="0.5" dy="-3.9">*</tspan></text>
<polyline points="75.4,481.6 91.2,480.9" fill="none" stroke="#111111" stroke-width="1.4" stroke-linecap="butt" stroke-linejoin="miter"/>
<text x="102.6" y="483.15" font-size="11.8" fill="#2a2aff" text-anchor="middle" font-weight="normal" font-style="normal" stroke="#2a2aff" stroke-width="0.28">B</text>
<text x="107.1" y="478.3" font-size="8.2" fill="#2a2aff" text-anchor="start" font-weight="normal" font-style="normal" stroke="#2a2aff" stroke-width="0.28">2</text>
<polyline points="92.6,476.6 97.9,476.6" fill="none" stroke="#666" stroke-width="1" stroke-linecap="butt" stroke-linejoin="miter"/>
<polyline points="75.4,481.6 74.7,460.8 61.3,456.4" fill="none" stroke="#22a522" stroke-width="1.4" stroke-linecap="butt" stroke-linejoin="miter"/>
<text x="54.3" y="458.25" font-size="11.8" fill="#22a522" text-anchor="middle" font-weight="normal" font-style="normal" stroke="#22a522" stroke-width="0.28">O</text>
<polyline points="50.7,460.2 42.4,471.1 21.6,471.4" fill="none" stroke="#22a522" stroke-width="1.4" stroke-linecap="butt" stroke-linejoin="miter"/>
<polyline points="42.4,471.1 55.4,487.9 75.4,481.6" fill="none" stroke="#22a522" stroke-width="1.4" stroke-linecap="butt" stroke-linejoin="miter"/>
<polyline points="74.7,460.8 78.2,449.2" fill="none" stroke="#22a522" stroke-width="1.4" stroke-linecap="butt" stroke-linejoin="miter"/>
<polyline points="78.4,460.8 82,449.6" fill="none" stroke="#22a522" stroke-width="1.4" stroke-linecap="butt" stroke-linejoin="miter"/>
<text x="80.8" y="446.15" font-size="11.8" fill="#22a522" text-anchor="middle" font-weight="normal" font-style="normal" stroke="#22a522" stroke-width="0.28">O</text>
<polyline points="85,438 93.4,430.6" fill="none" stroke="#111111" stroke-width="1.4" stroke-linecap="butt" stroke-linejoin="miter" stroke-dasharray="3.4,2.8"/>
<text x="128.2" y="566.6" font-size="11.2" fill="#111" text-anchor="middle" font-weight="bold" font-style="normal" stroke="#111" stroke-width="0.25">1A</text>
<polyline points="264,469 331.6,469" fill="none" stroke="#222" stroke-width="1.4" stroke-linecap="butt" stroke-linejoin="miter"/>
<polygon points="338.5,469 327,472.2 328.84,469 327,465.8" fill="#222"/>
<text x="297.9" y="462.5" font-size="12" fill="#22a522" text-anchor="middle" font-weight="normal" font-style="normal" stroke="#22a522" stroke-width="0.28">MMBL</text>
<polyline points="367.7,467.9 387.5,463 393.2,450.2" fill="none" stroke="#22a522" stroke-width="1.4" stroke-linecap="butt" stroke-linejoin="miter"/>
<text x="395.8" y="448.15" font-size="11.8" fill="#22a522" text-anchor="middle" font-weight="normal" font-style="normal" stroke="#22a522" stroke-width="0.28">O</text>
<polyline points="402.8,443.7 416.2,445.4" fill="none" stroke="#22a522" stroke-width="1.4" stroke-linecap="butt" stroke-linejoin="miter"/>
<polyline points="416.2,445.4 425.8,435" fill="none" stroke="#22a522" stroke-width="1.4" stroke-linecap="butt" stroke-linejoin="miter"/>
<polyline points="420.8,447.6 429.4,438.4" fill="none" stroke="#22a522" stroke-width="1.4" stroke-linecap="butt" stroke-linejoin="miter"/>
<text x="430.7" y="433.85" font-size="11.8" fill="#22a522" text-anchor="middle" font-weight="normal" font-style="normal" stroke="#22a522" stroke-width="0.28">O</text>
<polyline points="434.8,424.7 447.6,413.5" fill="none" stroke="#111111" stroke-width="1.4" stroke-linecap="butt" stroke-linejoin="miter" stroke-dasharray="3.4,2.8"/>
<polyline points="416.2,445.4 421.6,466.2 404.1,476.4 387.5,463" fill="none" stroke="#22a522" stroke-width="1.4" stroke-linecap="butt" stroke-linejoin="miter"/>
<polyline points="421.6,466.2 441.8,472.6" fill="none" stroke="#22a522" stroke-width="1.4" stroke-linecap="butt" stroke-linejoin="miter"/>
<polyline points="421.8,470 440.6,475.9" fill="none" stroke="#22a522" stroke-width="1.4" stroke-linecap="butt" stroke-linejoin="miter"/>
<text x="451.7" y="412.75" font-size="11.8" fill="#2a2aff" text-anchor="middle" font-weight="normal" font-style="normal" stroke="#2a2aff" stroke-width="0.28">B</text>
<text x="456.2" y="407.9" font-size="8.2" fill="#2a2aff" text-anchor="start" font-weight="normal" font-style="normal" stroke="#2a2aff" stroke-width="0.28">2</text>
<polyline points="461.6,399.8 468,394.5 489,396.2 497.9,405.8" fill="none" stroke="#111111" stroke-width="1.4" stroke-linecap="butt" stroke-linejoin="miter"/>
<text x="502.7" y="416.05" font-size="11.8" fill="#ff2a2a" text-anchor="middle" font-weight="normal" font-style="normal" stroke="#ff2a2a" stroke-width="0.28">P</text>
<text x="504.3" y="404.1" font-size="7.5" fill="#222" text-anchor="middle" font-weight="normal" font-style="normal" stroke="#222" stroke-width="0.28">+</text>
<polyline points="508.2,407.1 511.4,404.3" fill="none" stroke="#111111" stroke-width="1.4" stroke-linecap="butt" stroke-linejoin="miter"/>
<text x="512.6" y="403.6" font-size="11.2" fill="#2a2a2a" text-anchor="start" stroke="#2a2a2a" stroke-width="0.28">Mes<tspan font-size="7.8" dx="0.5" dy="-3.9">*</tspan></text>
<polyline points="496,414.5 483.2,421.1 467.3,437.7 462.1,454.2" fill="none" stroke="#111111" stroke-width="1.4" stroke-linecap="butt" stroke-linejoin="miter"/>
<text x="460" y="464.55" font-size="11.8" fill="#2a2aff" text-anchor="middle" font-weight="normal" font-style="normal" stroke="#2a2aff" stroke-width="0.28">B</text>
<text x="464.5" y="459.7" font-size="8.2" fill="#2a2aff" text-anchor="start" font-weight="normal" font-style="normal" stroke="#2a2aff" stroke-width="0.28">1</text>
<polyline points="450.1,456.7 455.6,456.7" fill="none" stroke="#666" stroke-width="1" stroke-linecap="butt" stroke-linejoin="miter"/>
<polyline points="461,466.8 462.3,478.3" fill="none" stroke="#111111" stroke-width="1.4" stroke-linecap="butt" stroke-linejoin="miter"/>
<text x="463.2" y="489.65" font-size="11.8" fill="#22a522" text-anchor="middle" font-weight="normal" font-style="normal" stroke="#22a522" stroke-width="0.28">O</text>
<polyline points="466.1,491.8 471.3,503.4 457.5,510.6" fill="none" stroke="#22a522" stroke-width="1.4" stroke-linecap="butt" stroke-linejoin="miter"/>
<text x="451.6" y="519.35" font-size="11.8" fill="#22a522" text-anchor="middle" font-weight="normal" font-style="normal" stroke="#22a522" stroke-width="0.28">O</text>
<polyline points="453.6,521.5 457.5,537.2 443.8,554.9" fill="none" stroke="#22a522" stroke-width="1.4" stroke-linecap="butt" stroke-linejoin="miter"/>
<polyline points="457.5,537.2 480.7,538.8 489,518.5 471.3,503.4" fill="none" stroke="#22a522" stroke-width="1.4" stroke-linecap="butt" stroke-linejoin="miter"/>
<polyline points="474.4,500.4 491.6,514.8" fill="none" stroke="#22a522" stroke-width="1.4" stroke-linecap="butt" stroke-linejoin="miter"/>
<polyline points="489,518.5 510.6,525.8" fill="none" stroke="#22a522" stroke-width="1.4" stroke-linecap="butt" stroke-linejoin="miter"/>
<polyline points="510.6,525.8 529.3,525.2" fill="none" stroke="#111111" stroke-width="1.4" stroke-linecap="butt" stroke-linejoin="miter"/>
<text x="534.6" y="529.45" font-size="11.8" fill="#ff2a2a" text-anchor="middle" font-weight="normal" font-style="normal" stroke="#ff2a2a" stroke-width="0.28">P</text>
<text x="534.2" y="517.4" font-size="7.5" fill="#222" text-anchor="middle" font-weight="normal" font-style="normal" stroke="#222" stroke-width="0.28">+</text>
<polyline points="529.3,531.3 524.4,538.2" fill="none" stroke="#111111" stroke-width="1.4" stroke-linecap="butt" stroke-linejoin="miter"/>
<text x="498.8" y="547.1" font-size="11.2" fill="#2a2a2a" text-anchor="start" stroke="#2a2a2a" stroke-width="0.28">Mes<tspan font-size="7.8" dx="0.5" dy="-3.9">*</tspan></text>
<polyline points="540.1,521.5 554.9,514.6 571.6,496.9 575.4,484.1" fill="none" stroke="#111111" stroke-width="1.4" stroke-linecap="butt" stroke-linejoin="miter"/>
<text x="579.2" y="480.75" font-size="11.8" fill="#2a2aff" text-anchor="middle" font-weight="normal" font-style="normal" stroke="#2a2aff" stroke-width="0.28">B</text>
<text x="583.7" y="475.9" font-size="8.2" fill="#2a2aff" text-anchor="start" font-weight="normal" font-style="normal" stroke="#2a2aff" stroke-width="0.28">1</text>
<polyline points="569,473.5 574.1,473.5" fill="none" stroke="#666" stroke-width="1" stroke-linecap="butt" stroke-linejoin="miter"/>
<polyline points="578.3,467.9 577.9,458.5" fill="none" stroke="#111111" stroke-width="1.4" stroke-linecap="butt" stroke-linejoin="miter"/>
<text x="577.3" y="455.75" font-size="11.8" fill="#22a522" text-anchor="middle" font-weight="normal" font-style="normal" stroke="#22a522" stroke-width="0.28">O</text>
<polyline points="574.1,445.4 566.4,432.6 579.9,425" fill="none" stroke="#22a522" stroke-width="1.4" stroke-linecap="butt" stroke-linejoin="miter"/>
<text x="586" y="426.05" font-size="11.8" fill="#22a522" text-anchor="middle" font-weight="normal" font-style="normal" stroke="#22a522" stroke-width="0.28">O</text>
<polyline points="584.7,415.4 580.5,398.8 596.2,382.1" fill="none" stroke="#22a522" stroke-width="1.4" stroke-linecap="butt" stroke-linejoin="miter"/>
<polyline points="580.5,398.8 557.5,396.6 548.5,417.3 566.4,432.6" fill="none" stroke="#22a522" stroke-width="1.4" stroke-linecap="butt" stroke-linejoin="miter"/>
<polyline points="546.2,421.9 563,436.2" fill="none" stroke="#22a522" stroke-width="1.4" stroke-linecap="butt" stroke-linejoin="miter"/>
<polyline points="548.5,417.3 526.4,410.3" fill="none" stroke="#22a522" stroke-width="1.4" stroke-linecap="butt" stroke-linejoin="miter"/>
<polyline points="526.4,410.3 509.4,411.2" fill="none" stroke="#111111" stroke-width="1.4" stroke-linecap="butt" stroke-linejoin="miter"/>
<polyline points="538.2,529.3 552.9,540.7 570.6,543.5 584.4,534.8" fill="none" stroke="#111111" stroke-width="1.4" stroke-linecap="butt" stroke-linejoin="miter"/>
<text x="591.2" y="534.85" font-size="11.8" fill="#2a2aff" text-anchor="middle" font-weight="normal" font-style="normal" stroke="#2a2aff" stroke-width="0.28">B</text>
<text x="595.7" y="530" font-size="8.2" fill="#2a2aff" text-anchor="start" font-weight="normal" font-style="normal" stroke="#2a2aff" stroke-width="0.28">2</text>
<polyline points="597.2,520.5 602.1,511.6" fill="none" stroke="#111111" stroke-width="1.4" stroke-linecap="butt" stroke-linejoin="miter" stroke-dasharray="3.4,2.8"/>
<text x="605.2" y="510.45" font-size="11.8" fill="#22a522" text-anchor="middle" font-weight="normal" font-style="normal" stroke="#22a522" stroke-width="0.28">O</text>
<polyline points="618.2,489.9 605.6,499" fill="none" stroke="#22a522" stroke-width="1.4" stroke-linecap="butt" stroke-linejoin="miter"/>
<polyline points="619.6,493 609,501.6" fill="none" stroke="#22a522" stroke-width="1.4" stroke-linecap="butt" stroke-linejoin="miter"/>
<polyline points="618.2,489.9 632.9,491.4" fill="none" stroke="#22a522" stroke-width="1.4" stroke-linecap="butt" stroke-linejoin="miter"/>
<text x="639.6" y="496.65" font-size="11.8" fill="#22a522" text-anchor="middle" font-weight="normal" font-style="normal" stroke="#22a522" stroke-width="0.28">O</text>
<polyline points="642.5,485.4 647.6,472.4 668,467.7" fill="none" stroke="#22a522" stroke-width="1.4" stroke-linecap="butt" stroke-linejoin="miter"/>
<polyline points="647.6,472.4 631.6,458.9 614.2,468.6 618.2,489.9" fill="none" stroke="#22a522" stroke-width="1.4" stroke-linecap="butt" stroke-linejoin="miter"/>
<polyline points="614.2,468.6 593,459.6" fill="none" stroke="#22a522" stroke-width="1.4" stroke-linecap="butt" stroke-linejoin="miter"/>
<polyline points="612.2,472 593,463.2" fill="none" stroke="#22a522" stroke-width="1.4" stroke-linecap="butt" stroke-linejoin="miter"/>
<text x="517.8" y="566.8" font-size="11.2" fill="#111" text-anchor="middle" font-weight="bold" font-style="normal" stroke="#111" stroke-width="0.25">D</text>
<polyline points="686,469 753.3,469" fill="none" stroke="#333" stroke-width="1.3" stroke-linecap="butt" stroke-linejoin="miter"/>
<polygon points="760.2,469 748.7,472.2 750.54,469 748.7,465.8" fill="#333"/>
<text x="715.6" y="463.3" font-size="12" fill="#222" stroke="#222" stroke-width="0.28"><tspan font-style="italic">k</tspan><tspan font-size="8.6" dy="1.8">a1</tspan></text>
<polyline points="791.2,392.3 782.1,392.3 782.1,544.7 791.2,544.7" fill="none" stroke="#3a3a3a" stroke-width="1.3" stroke-linecap="butt" stroke-linejoin="miter"/>
<polyline points="981.5,392.3 990.9,392.3 990.9,544.7 981.5,544.7" fill="none" stroke="#3a3a3a" stroke-width="1.3" stroke-linecap="butt" stroke-linejoin="miter"/>
<text x="999" y="399.8" font-size="9" fill="#222" text-anchor="middle" font-weight="normal" font-style="normal" stroke="#222" stroke-width="0.28">‡</text>
<text x="891.8" y="566.5" font-size="11.8" fill="#222" text-anchor="middle" font-weight="normal" font-style="normal" stroke="#222" stroke-width="0.28">Bicatalyst</text>
<polyline points="816.6,413.6 829.6,425.4 839,423.3" fill="none" stroke="#22a522" stroke-width="1.4" stroke-linecap="butt" stroke-linejoin="miter"/>
<text x="846.4" y="427.05" font-size="11.8" fill="#22a522" text-anchor="middle" font-weight="normal" font-style="normal" stroke="#22a522" stroke-width="0.28">O</text>
<polyline points="850.8,428.7 854.9,438.7" fill="none" stroke="#22a522" stroke-width="1.4" stroke-linecap="butt" stroke-linejoin="miter"/>
<polyline points="829.6,425.4 827.8,443.4 843.7,449.9 854.9,438.7" fill="none" stroke="#22a522" stroke-width="1.4" stroke-linecap="butt" stroke-linejoin="miter"/>
<polyline points="854.9,438.7 867.3,439.3" fill="none" stroke="#22a522" stroke-width="1.4" stroke-linecap="butt" stroke-linejoin="miter"/>
<polyline points="856.7,442.8 866.1,442.8" fill="none" stroke="#22a522" stroke-width="1.4" stroke-linecap="butt" stroke-linejoin="miter"/>
<text x="872.3" y="444.35" font-size="11.8" fill="#22a522" text-anchor="middle" font-weight="normal" font-style="normal" stroke="#22a522" stroke-width="0.28">O</text>
<polyline points="879.1,439.6 888.6,439.6" fill="none" stroke="#111111" stroke-width="1.4" stroke-linecap="butt" stroke-linejoin="miter" stroke-dasharray="3.4,2.8"/>
<text x="893.8" y="443.45" font-size="11.8" fill="#2a2aff" text-anchor="middle" font-weight="normal" font-style="normal" stroke="#2a2aff" stroke-width="0.28">B</text>
<text x="898.3" y="438.6" font-size="8.2" fill="#2a2aff" text-anchor="start" font-weight="normal" font-style="normal" stroke="#2a2aff" stroke-width="0.28">2</text>
<polyline points="842.5,451.1 844.3,467.6" fill="none" stroke="#22a522" stroke-width="1.4" stroke-linecap="butt" stroke-linejoin="miter"/>
<polyline points="846.7,450.5 848.4,467.6" fill="none" stroke="#22a522" stroke-width="1.4" stroke-linecap="butt" stroke-linejoin="miter"/>
<text x="839.4" y="445.25" font-size="11.8" fill="#2a2aff" text-anchor="middle" font-weight="normal" font-style="normal" stroke="#2a2aff" stroke-width="0.28">B</text>
<text x="843.9" y="440.4" font-size="8.2" fill="#2a2aff" text-anchor="start" font-weight="normal" font-style="normal" stroke="#2a2aff" stroke-width="0.28">1</text>
<polyline points="829,437.9 834.9,437.9" fill="none" stroke="#666" stroke-width="1" stroke-linecap="butt" stroke-linejoin="miter"/>
<polyline points="852.6,426.3 874.4,415.9 890.3,415.9" fill="none" stroke="#111111" stroke-width="1.4" stroke-linecap="butt" stroke-linejoin="miter"/>
<text x="895.7" y="420.25" font-size="11.8" fill="#ff2a2a" text-anchor="middle" font-weight="normal" font-style="normal" stroke="#ff2a2a" stroke-width="0.28">P</text>
<text x="896.8" y="411" font-size="7.5" fill="#222" text-anchor="middle" font-weight="normal" font-style="normal" stroke="#222" stroke-width="0.28">+</text>
<text x="872.6" y="406.2" font-size="11.2" fill="#2a2a2a" text-anchor="start" stroke="#2a2a2a" stroke-width="0.28">Mes<tspan font-size="7.8" dx="0.5" dy="-3.9">*</tspan></text>
<polyline points="900.6,413.3 905.4,412.2" fill="none" stroke="#111111" stroke-width="1" stroke-linecap="butt" stroke-linejoin="miter" stroke-dasharray="3.4,2.8"/>
<polyline points="900.4,418.8 904.6,419.8" fill="none" stroke="#111111" stroke-width="1" stroke-linecap="butt" stroke-linejoin="miter" stroke-dasharray="3.4,2.8"/>
<polyline points="900.6,429.8 917.2,396.2 921.3,409.2 913,411" fill="none" stroke="#111111" stroke-width="1.2" stroke-linecap="butt" stroke-linejoin="miter"/>
<polyline points="907.7,421 915.4,423.9" fill="none" stroke="#111111" stroke-width="1.4" stroke-linecap="butt" stroke-linejoin="miter"/>
<polyline points="915.4,423.9 930.7,439.3" fill="none" stroke="#22a522" stroke-width="1.4" stroke-linecap="butt" stroke-linejoin="miter"/>
<polyline points="930.7,439.3 947.3,425.7 965,436.7 984.4,428.9" fill="none" stroke="#22a522" stroke-width="1.4" stroke-linecap="butt" stroke-linejoin="miter"/>
<polyline points="965,436.7 962,451.7" fill="none" stroke="#22a522" stroke-width="1.4" stroke-linecap="butt" stroke-linejoin="miter"/>
<text x="960.9" y="461.75" font-size="11.8" fill="#22a522" text-anchor="middle" font-weight="normal" font-style="normal" stroke="#22a522" stroke-width="0.28">O</text>
<polyline points="954.9,458.2 940.2,459.3 930.7,439.3" fill="none" stroke="#22a522" stroke-width="1.4" stroke-linecap="butt" stroke-linejoin="miter"/>
<polyline points="927,442 935.6,460.5" fill="none" stroke="#22a522" stroke-width="1.4" stroke-linecap="butt" stroke-linejoin="miter"/>
<polyline points="940.2,459.3 940.8,472.4" fill="none" stroke="#22a522" stroke-width="1.4" stroke-linecap="butt" stroke-linejoin="miter"/>
<text x="941" y="482.85" font-size="11.8" fill="#22a522" text-anchor="middle" font-weight="normal" font-style="normal" stroke="#22a522" stroke-width="0.28">O</text>
<polyline points="927.2,468.3 931.9,485.4" fill="none" stroke="#22a522" stroke-width="1.4" stroke-linecap="butt" stroke-linejoin="miter"/>
<polyline points="930.9,467.7 935,483" fill="none" stroke="#22a522" stroke-width="1.4" stroke-linecap="butt" stroke-linejoin="miter"/>
<polyline points="931.9,485.4 947.8,491.6 946.1,510.1 958.5,521.4" fill="none" stroke="#22a522" stroke-width="1.4" stroke-linecap="butt" stroke-linejoin="miter"/>
<polyline points="946.1,510.1 935.5,511.9" fill="none" stroke="#22a522" stroke-width="1.4" stroke-linecap="butt" stroke-linejoin="miter"/>
<text x="928.7" y="517.95" font-size="11.8" fill="#22a522" text-anchor="middle" font-weight="normal" font-style="normal" stroke="#22a522" stroke-width="0.28">O</text>
<polyline points="924.8,507.8 920.7,497.8 931.9,485.4" fill="none" stroke="#22a522" stroke-width="1.4" stroke-linecap="butt" stroke-linejoin="miter"/>
<polyline points="918.9,494.7 909.5,494.2" fill="none" stroke="#22a522" stroke-width="1.4" stroke-linecap="butt" stroke-linejoin="miter"/>
<polyline points="918.9,498 909.5,497.4" fill="none" stroke="#22a522" stroke-width="1.4" stroke-linecap="butt" stroke-linejoin="miter"/>
<text x="902.4" y="500.85" font-size="11.8" fill="#22a522" text-anchor="middle" font-weight="normal" font-style="normal" stroke="#22a522" stroke-width="0.28">O</text>
<polyline points="895.3,497.3 882.4,498.3" fill="none" stroke="#111111" stroke-width="1.4" stroke-linecap="butt" stroke-linejoin="miter" stroke-dasharray="3.4,2.8"/>
<text x="871.5" y="504.45" font-size="11.8" fill="#2a2aff" text-anchor="middle" font-weight="normal" font-style="normal" stroke="#2a2aff" stroke-width="0.28">B</text>
<text x="876" y="499.6" font-size="8.2" fill="#2a2aff" text-anchor="start" font-weight="normal" font-style="normal" stroke="#2a2aff" stroke-width="0.28">2</text>
<text x="936.4" y="505.55" font-size="11.8" fill="#2a2aff" text-anchor="middle" font-weight="normal" font-style="normal" stroke="#2a2aff" stroke-width="0.28">B</text>
<text x="940.9" y="500.7" font-size="8.2" fill="#2a2aff" text-anchor="start" font-weight="normal" font-style="normal" stroke="#2a2aff" stroke-width="0.28">1</text>
<polyline points="926.6,498 931.9,498" fill="none" stroke="#666" stroke-width="1" stroke-linecap="butt" stroke-linejoin="miter"/>
<polyline points="882.1,523.1 897.7,522.5 915.4,514.9 922.5,509.6" fill="none" stroke="#111111" stroke-width="1.4" stroke-linecap="butt" stroke-linejoin="miter"/>
<text x="876.5" y="527.45" font-size="11.8" fill="#ff2a2a" text-anchor="middle" font-weight="normal" font-style="normal" stroke="#ff2a2a" stroke-width="0.28">P</text>
<text x="876.2" y="517.6" font-size="7.5" fill="#222" text-anchor="middle" font-weight="normal" font-style="normal" stroke="#222" stroke-width="0.28">+</text>
<polyline points="881,527.5 883,530.5" fill="none" stroke="#111111" stroke-width="1.4" stroke-linecap="butt" stroke-linejoin="miter"/>
<text x="875" y="540.9" font-size="11.2" fill="#2a2a2a" text-anchor="start" stroke="#2a2a2a" stroke-width="0.28">Mes<tspan font-size="7.8" dx="0.5" dy="-3.9">*</tspan></text>
<polyline points="871.5,519.5 867,520.5" fill="none" stroke="#111111" stroke-width="1" stroke-linecap="butt" stroke-linejoin="miter" stroke-dasharray="3.4,2.8"/>
<polyline points="871.5,526 867,527.5" fill="none" stroke="#111111" stroke-width="1" stroke-linecap="butt" stroke-linejoin="miter" stroke-dasharray="3.4,2.8"/>
<polyline points="870.9,507.8 857.3,541.2 852,532 861.4,529.6" fill="none" stroke="#111111" stroke-width="1.2" stroke-linecap="butt" stroke-linejoin="miter"/>
<polyline points="863.8,517.8 856.1,514.3" fill="none" stroke="#111111" stroke-width="1.4" stroke-linecap="butt" stroke-linejoin="miter"/>
<polyline points="856.1,514.3 840.8,499.5" fill="none" stroke="#22a522" stroke-width="1.4" stroke-linecap="butt" stroke-linejoin="miter"/>
<polyline points="832.5,465.6 832.5,479.5 817.8,480.6" fill="none" stroke="#22a522" stroke-width="1.4" stroke-linecap="butt" stroke-linejoin="miter"/>
<text x="811.3" y="485.45" font-size="11.8" fill="#22a522" text-anchor="middle" font-weight="normal" font-style="normal" stroke="#22a522" stroke-width="0.28">O</text>
<polyline points="809.5,488.3 806.9,501.3 788.3,511.3" fill="none" stroke="#22a522" stroke-width="1.4" stroke-linecap="butt" stroke-linejoin="miter"/>
<polyline points="806.9,501.3 824.8,512.9 840.8,499.5 832.5,479.5" fill="none" stroke="#22a522" stroke-width="1.4" stroke-linecap="butt" stroke-linejoin="miter"/>
<polyline points="836.2,478.6 844.4,496.2" fill="none" stroke="#22a522" stroke-width="1.4" stroke-linecap="butt" stroke-linejoin="miter"/>
<text x="832" y="463.05" font-size="11.8" fill="#22a522" text-anchor="middle" font-weight="normal" font-style="normal" stroke="#22a522" stroke-width="0.28">O</text>
<path d="M855,450 Q861,453 867,445.5" fill="none" stroke="#222" stroke-width="1.1"/>
<polygon points="867.94,444.33 866.23,450.54 862.25,447.36" fill="#222"/>
<path d="M852.4,453.7 Q857.5,458.5 851.5,463.5" fill="none" stroke="#222" stroke-width="1.1"/>
<path d="M838,462 Q841.5,467 838.5,474" fill="none" stroke="#222" stroke-width="1.1"/>
<polygon points="837.91,475.38 837.9,468.93 842.58,470.94" fill="#222"/>
<path d="M830.5,484 Q828,492 835.5,497.8" fill="none" stroke="#222" stroke-width="1.1"/>
<polygon points="836.69,498.72 830.44,497.11 833.56,493.08" fill="#222"/>
<path d="M846,492 Q853.5,484 850.8,474.5" fill="none" stroke="#222" stroke-width="1.1"/>
<polygon points="850.39,473.06 854.46,478.05 849.56,479.45" fill="#222"/>
<path d="M924.8,441 Q918,452 923.7,463.5" fill="none" stroke="#222" stroke-width="1.1"/>
<polygon points="924.37,464.84 919.45,460.67 924.02,458.41" fill="#222"/>
<path d="M942.5,453.5 Q945.5,444 937.5,441.5" fill="none" stroke="#222" stroke-width="1.1"/>
<polygon points="936.07,441.05 942.48,440.38 940.96,445.25" fill="#222"/>
<path d="M921.3,468.3 Q918.5,478 925.4,486.5" fill="none" stroke="#222" stroke-width="1.1"/>
<polygon points="926.35,487.66 920.63,484.68 924.59,481.46" fill="#222"/>
<path d="M923.5,488 Q916,481 907.1,487.1" fill="none" stroke="#222" stroke-width="1.1"/>
<polygon points="905.86,487.95 909.3,482.5 912.19,486.7" fill="#222"/>
<path d="M937.8,475.5 Q932.5,470 938.3,464.8" fill="none" stroke="#222" stroke-width="1.1"/>
<polygon points="939.42,463.8 936.71,469.65 933.31,465.85" fill="#222"/>
<text x="128.2" y="601" font-size="12" fill="#222" text-anchor="middle" font-weight="normal" font-style="normal" stroke="#222" stroke-width="0.28">+</text>
<polyline points="68.3,637 88.9,641.4 99.9,631.5" fill="none" stroke="#22a522" stroke-width="1.4" stroke-linecap="butt" stroke-linejoin="miter"/>
<text x="104.4" y="632.65" font-size="11.8" fill="#22a522" text-anchor="middle" font-weight="normal" font-style="normal" stroke="#22a522" stroke-width="0.28">O</text>
<polyline points="110.9,631.2 123.3,638.1" fill="none" stroke="#22a522" stroke-width="1.4" stroke-linecap="butt" stroke-linejoin="miter"/>
<polyline points="123.3,638.1 135.7,630.1" fill="none" stroke="#22a522" stroke-width="1.4" stroke-linecap="butt" stroke-linejoin="miter"/>
<polyline points="126.4,641.6 137.5,633.6" fill="none" stroke="#22a522" stroke-width="1.4" stroke-linecap="butt" stroke-linejoin="miter"/>
<text x="140.5" y="631.25" font-size="11.8" fill="#22a522" text-anchor="middle" font-weight="normal" font-style="normal" stroke="#22a522" stroke-width="0.28">O</text>
<polyline points="146.7,628.1 157.7,629.5" fill="none" stroke="#111111" stroke-width="1.4" stroke-linecap="butt" stroke-linejoin="miter" stroke-dasharray="3.4,2.8"/>
<text x="164" y="635.75" font-size="11.8" fill="#2a2aff" text-anchor="middle" font-weight="normal" font-style="normal" stroke="#2a2aff" stroke-width="0.28">B</text>
<text x="168.5" y="638.9" font-size="8.2" fill="#2a2aff" text-anchor="start" font-weight="normal" font-style="normal" stroke="#2a2aff" stroke-width="0.28">1</text>
<polyline points="123.3,638.1 119.2,659.1 97.2,661.1 88.9,641.4" fill="none" stroke="#22a522" stroke-width="1.4" stroke-linecap="butt" stroke-linejoin="miter"/>
<polyline points="119.2,659.1 130.9,677" fill="none" stroke="#22a522" stroke-width="1.4" stroke-linecap="butt" stroke-linejoin="miter"/>
<polyline points="130.9,677 145.4,680" fill="none" stroke="#111111" stroke-width="1.4" stroke-linecap="butt" stroke-linejoin="miter"/>
<polyline points="119.2,659.1 111.6,671.4" fill="none" stroke="#111111" stroke-width="1.4" stroke-linecap="butt" stroke-linejoin="miter"/>
<text x="113" y="684.25" font-size="11.8" fill="#2a2aff" text-anchor="middle" font-weight="normal" font-style="normal" stroke="#2a2aff" stroke-width="0.28">B</text>
<text x="117.5" y="687.4" font-size="8.2" fill="#2a2aff" text-anchor="start" font-weight="normal" font-style="normal" stroke="#2a2aff" stroke-width="0.28">2</text>
<polyline points="102.7,676.7 107.5,676.7" fill="none" stroke="#666" stroke-width="1" stroke-linecap="butt" stroke-linejoin="miter"/>
<polyline points="114.4,687.3 117.8,695.5 138.5,698.3 147.4,688.6" fill="none" stroke="#111111" stroke-width="1.4" stroke-linecap="butt" stroke-linejoin="miter"/>
<text x="151.5" y="686.65" font-size="11.8" fill="#ff2a2a" text-anchor="middle" font-weight="normal" font-style="normal" stroke="#ff2a2a" stroke-width="0.28">P</text>
<text x="150.9" y="677" font-size="7.5" fill="#222" text-anchor="middle" font-weight="normal" font-style="normal" stroke="#222" stroke-width="0.28">+</text>
<polyline points="156.4,686.6 161.9,691.4" fill="none" stroke="#111111" stroke-width="1.4" stroke-linecap="butt" stroke-linejoin="miter"/>
<text x="161.9" y="702.5" font-size="11.2" fill="#2a2a2a" text-anchor="start" stroke="#2a2a2a" stroke-width="0.28">Mes<tspan font-size="7.8" dx="0.5" dy="-3.9">*</tspan></text>
<polyline points="169.4,641.2 173.6,648 170.1,670.1 157.7,677.6" fill="none" stroke="#111111" stroke-width="1.4" stroke-linecap="butt" stroke-linejoin="miter"/>
<text x="128.3" y="740.2" font-size="11.2" fill="#111" text-anchor="middle" font-weight="bold" font-style="normal" stroke="#111" stroke-width="0.25">1B</text>
<polyline points="264,661.8 331.6,661.8" fill="none" stroke="#222" stroke-width="1.4" stroke-linecap="butt" stroke-linejoin="miter"/>
<polygon points="338.5,661.8 327,665 328.84,661.8 327,658.6" fill="#222"/>
<text x="297.9" y="655.8" font-size="12" fill="#22a522" text-anchor="middle" font-weight="normal" font-style="normal" stroke="#22a522" stroke-width="0.28">MMBL</text>
<text x="208.3" y="748.8" font-size="12.1" fill="#222" textLength="185.8" lengthAdjust="spacingAndGlyphs" stroke="#222" stroke-width="0.28">a1 rate = <tspan font-style="italic">k</tspan><tspan font-size="8.5" dy="1.8">a1</tspan><tspan dy="-1.8">[MMBL]</tspan><tspan font-size="8.5" dy="-4.5">0</tspan><tspan dy="4.5">[</tspan><tspan font-weight="bold">D</tspan>]<tspan font-size="8.5" dy="-4.5">1</tspan><tspan dy="4.5"> = </tspan><tspan font-style="italic">k</tspan><tspan font-size="8.5" dy="1.8">a1</tspan><tspan dy="-1.8">[</tspan><tspan font-weight="bold">1A</tspan>]<tspan font-size="8.5" dy="-4.5">1</tspan></text>
<text x="208.3" y="765.3" font-size="12.1" fill="#9a9a9a" textLength="188" lengthAdjust="spacingAndGlyphs" stroke="#9a9a9a" stroke-width="0.28">b1 rate = <tspan font-style="italic">k</tspan><tspan font-size="8.5" dy="1.8">b1</tspan><tspan dy="-1.8">[MMBL]</tspan><tspan font-size="8.5" dy="-4.5">0</tspan><tspan dy="4.5">[</tspan><tspan font-weight="bold">M</tspan>]<tspan font-size="8.5" dy="-4.5">1</tspan><tspan dy="4.5"> = </tspan><tspan font-style="italic">k</tspan><tspan font-size="8.5" dy="1.8">b1</tspan><tspan dy="-1.8">[</tspan><tspan font-weight="bold">1B</tspan>]<tspan font-size="8.5" dy="-4.5">1</tspan></text>
<text x="619.3" y="746.8" font-size="12.1" fill="#9a9a9a" textLength="185.8" lengthAdjust="spacingAndGlyphs" stroke="#9a9a9a" stroke-width="0.28">a2 rate = <tspan font-style="italic">k</tspan><tspan font-size="8.5" dy="1.8">a2</tspan><tspan dy="-1.8">[MMBL]</tspan><tspan font-size="8.5" dy="-4.5">0</tspan><tspan dy="4.5">[</tspan><tspan font-weight="bold">D</tspan>]<tspan font-size="8.5" dy="-4.5">1</tspan><tspan dy="4.5"> =  </tspan><tspan font-style="italic">k</tspan><tspan font-size="8.5" dy="1.8">a2</tspan><tspan dy="-1.8">[</tspan><tspan font-weight="bold">1A</tspan>]<tspan font-size="8.5" dy="-4.5">1</tspan></text>
<text x="619.3" y="763.3" font-size="12.1" fill="#222" textLength="190" lengthAdjust="spacingAndGlyphs" stroke="#222" stroke-width="0.28">b2 rate = <tspan font-style="italic">k</tspan><tspan font-size="8.5" dy="1.8">b2</tspan><tspan dy="-1.8">[MMBL]</tspan><tspan font-size="8.5" dy="-4.5">0</tspan><tspan dy="4.5">[</tspan><tspan font-weight="bold">M</tspan>]<tspan font-size="8.5" dy="-4.5">2</tspan><tspan dy="4.5"> = </tspan><tspan font-style="italic">k</tspan><tspan font-size="8.5" dy="1.8">b2</tspan><tspan dy="-1.8">[</tspan><tspan font-weight="bold">1B</tspan>]<tspan font-size="8.5" dy="-4.5">2</tspan></text>
<text x="517.9" y="601" font-size="12" fill="#222" text-anchor="middle" font-weight="normal" font-style="normal" stroke="#222" stroke-width="0.28">+</text>
<polyline points="465.7,658.1 470,637.6" fill="none" stroke="#22a522" stroke-width="1.4" stroke-linecap="butt" stroke-linejoin="miter"/>
<polyline points="469.3,659 473.8,638.1" fill="none" stroke="#22a522" stroke-width="1.4" stroke-linecap="butt" stroke-linejoin="miter"/>
<polyline points="467.3,658.7 448.4,667.3 451.1,688.4 435.4,702.5" fill="none" stroke="#22a522" stroke-width="1.4" stroke-linecap="butt" stroke-linejoin="miter"/>
<polyline points="451.1,688.4 464.6,691.7" fill="none" stroke="#22a522" stroke-width="1.4" stroke-linecap="butt" stroke-linejoin="miter"/>
<text x="471.4" y="696.95" font-size="11.8" fill="#22a522" text-anchor="middle" font-weight="normal" font-style="normal" stroke="#22a522" stroke-width="0.28">O</text>
<polyline points="474.9,686.2 481.9,673.8 467.3,658.7" fill="none" stroke="#22a522" stroke-width="1.4" stroke-linecap="butt" stroke-linejoin="miter"/>
<polyline points="481.9,673.8 496,671.6" fill="none" stroke="#22a522" stroke-width="1.4" stroke-linecap="butt" stroke-linejoin="miter"/>
<polyline points="483.2,670.3 495.4,668.3" fill="none" stroke="#22a522" stroke-width="1.4" stroke-linecap="butt" stroke-linejoin="miter"/>
<text x="502.4" y="676.15" font-size="11.8" fill="#22a522" text-anchor="middle" font-weight="normal" font-style="normal" stroke="#22a522" stroke-width="0.28">O</text>
<polyline points="509,671.1 519.8,670" fill="none" stroke="#111111" stroke-width="1.4" stroke-linecap="butt" stroke-linejoin="miter" stroke-dasharray="3.4,2.8"/>
<text x="525.5" y="673.85" font-size="11.8" fill="#2a2aff" text-anchor="middle" font-weight="normal" font-style="normal" stroke="#2a2aff" stroke-width="0.28">B</text>
<text x="530" y="669" font-size="8.2" fill="#2a2aff" text-anchor="start" font-weight="normal" font-style="normal" stroke="#2a2aff" stroke-width="0.28">2</text>
<polyline points="526.8,676.5 530.1,689.5 549.5,696.8 559,689" fill="none" stroke="#111111" stroke-width="1.4" stroke-linecap="butt" stroke-linejoin="miter"/>
<text x="564.9" y="689.55" font-size="11.8" fill="#ff2a2a" text-anchor="middle" font-weight="normal" font-style="normal" stroke="#ff2a2a" stroke-width="0.28">P</text>
<text x="566.5" y="678.9" font-size="7.5" fill="#222" text-anchor="middle" font-weight="normal" font-style="normal" stroke="#222" stroke-width="0.28">+</text>
<polyline points="568.6,690.4 572.7,696.6" fill="none" stroke="#111111" stroke-width="1.4" stroke-linecap="butt" stroke-linejoin="miter"/>
<text x="571.3" y="709" font-size="11.2" fill="#2a2a2a" text-anchor="start" stroke="#2a2a2a" stroke-width="0.28">Mes<tspan font-size="7.8" dx="0.5" dy="-3.9">*</tspan></text>
<polyline points="559.7,682.9 546,674.7" fill="none" stroke="#111111" stroke-width="1.4" stroke-linecap="butt" stroke-linejoin="miter"/>
<polyline points="546,674.7 539.2,654.2 549.5,634.4" fill="none" stroke="#22a522" stroke-width="1.4" stroke-linecap="butt" stroke-linejoin="miter"/>
<polyline points="544.2,653.2 552.4,638.3" fill="none" stroke="#22a522" stroke-width="1.4" stroke-linecap="butt" stroke-linejoin="miter"/>
<polyline points="549.5,634.4 539.2,624.8" fill="none" stroke="#22a522" stroke-width="1.4" stroke-linecap="butt" stroke-linejoin="miter"/>
<text x="533.7" y="624.95" font-size="11.8" fill="#22a522" text-anchor="middle" font-weight="normal" font-style="normal" stroke="#22a522" stroke-width="0.28">O</text>
<polyline points="528.3,623.5 515.3,629.6 496.2,619.8" fill="none" stroke="#22a522" stroke-width="1.4" stroke-linecap="butt" stroke-linejoin="miter"/>
<polyline points="515.3,629.6 518.7,650.8 539.2,654.2" fill="none" stroke="#22a522" stroke-width="1.4" stroke-linecap="butt" stroke-linejoin="miter"/>
<polyline points="549.5,634.4 563.1,630.3" fill="none" stroke="#22a522" stroke-width="1.4" stroke-linecap="butt" stroke-linejoin="miter"/>
<text x="569" y="633.85" font-size="11.8" fill="#22a522" text-anchor="middle" font-weight="normal" font-style="normal" stroke="#22a522" stroke-width="0.28">O</text>
<polyline points="575.4,631 581.5,633.8" fill="none" stroke="#111111" stroke-width="1.4" stroke-linecap="butt" stroke-linejoin="miter"/>
<text x="591.5" y="644.45" font-size="11.8" fill="#2a2aff" text-anchor="middle" font-weight="normal" font-style="normal" stroke="#2a2aff" stroke-width="0.28">B</text>
<text x="596" y="639.6" font-size="8.2" fill="#2a2aff" text-anchor="start" font-weight="normal" font-style="normal" stroke="#2a2aff" stroke-width="0.28">1</text>
<polyline points="581.6,637.1 585.7,637.1" fill="none" stroke="#666" stroke-width="1" stroke-linecap="butt" stroke-linejoin="miter"/>
<polyline points="593.2,646 595.2,659 585.7,678.8 572,682.9" fill="none" stroke="#111111" stroke-width="1.4" stroke-linecap="butt" stroke-linejoin="miter"/>
<text x="517.9" y="739.2" font-size="11.2" fill="#111" text-anchor="middle" font-weight="bold" font-style="normal" stroke="#111" stroke-width="0.25">M</text>
<polyline points="673,574.5 767.49,607.71" fill="none" stroke="#8a8a8a" stroke-width="1.1" stroke-linecap="butt" stroke-linejoin="miter" stroke-dasharray="3,2.6"/>
<polygon points="774,610 762.09,609.21 764.89,606.8 764.21,603.17" fill="#8a8a8a"/>
<polyline points="672.2,606.8 766.51,577.36" fill="none" stroke="#111" stroke-width="1.3" stroke-linecap="butt" stroke-linejoin="miter"/>
<polygon points="773.1,575.3 763.08,581.78 763.88,578.18 761.17,575.67" fill="#111"/>
<text x="730.6" y="578.4" font-size="12" fill="#222" stroke="#222" stroke-width="0.28"><tspan font-style="italic">k</tspan><tspan font-size="8.6" dy="1.8">b2</tspan></text>
<text x="730.6" y="613.4" font-size="12" fill="#333" stroke="#333" stroke-width="0.28"><tspan font-style="italic">k</tspan><tspan font-size="8.6" dy="1.8">a2</tspan></text>
<polyline points="684.4,662 754.1,662" fill="none" stroke="#8a8a8a" stroke-width="1.1" stroke-linecap="butt" stroke-linejoin="miter" stroke-dasharray="3,2.6"/>
<polygon points="761,662 749.5,665.2 751.34,662 749.5,658.8" fill="#8a8a8a"/>
<text x="716.0" y="656.6" font-size="12" fill="#333" stroke="#333" stroke-width="0.28"><tspan font-style="italic">k</tspan><tspan font-size="8.6" dy="1.8">b1</tspan></text>
<polyline points="816.4,597.6 807.3,597.6 807.3,725.2 816.4,725.2" fill="none" stroke="#3a3a3a" stroke-width="1.3" stroke-linecap="butt" stroke-linejoin="miter"/>
<polyline points="957.2,597.6 964.9,597.6 964.9,725.2 957.2,725.2" fill="none" stroke="#3a3a3a" stroke-width="1.3" stroke-linecap="butt" stroke-linejoin="miter"/>
<text x="972.2" y="606" font-size="9" fill="#222" text-anchor="middle" font-weight="normal" font-style="normal" stroke="#222" stroke-width="0.28">‡</text>
<text x="892.1" y="739.2" font-size="11.7" fill="#222" text-anchor="middle" font-weight="normal" font-style="normal" stroke="#222" stroke-width="0.28">Monocatalyst</text>
<text x="855.4" y="612.3" font-size="11.2" fill="#2a2a2a" text-anchor="start" stroke="#2a2a2a" stroke-width="0.28">Mes<tspan font-size="7.8" dx="0.5" dy="-3.9">*</tspan></text>
<polyline points="883,612.9 886.4,617.7" fill="none" stroke="#111111" stroke-width="1.4" stroke-linecap="butt" stroke-linejoin="miter"/>
<text x="890.9" y="629.25" font-size="11.8" fill="#ff2a2a" text-anchor="middle" font-weight="normal" font-style="normal" stroke="#ff2a2a" stroke-width="0.28">P</text>
<text x="891.9" y="618.4" font-size="7.5" fill="#222" text-anchor="middle" font-weight="normal" font-style="normal" stroke="#222" stroke-width="0.28">+</text>
<polyline points="896,619.8 906.4,609.5 927,609.5 936.7,618.4" fill="none" stroke="#111111" stroke-width="1.4" stroke-linecap="butt" stroke-linejoin="miter"/>
<text x="942.8" y="628.45" font-size="11.8" fill="#2a2aff" text-anchor="middle" font-weight="normal" font-style="normal" stroke="#2a2aff" stroke-width="0.28">B</text>
<text x="947.3" y="623.6" font-size="8.2" fill="#2a2aff" text-anchor="start" font-weight="normal" font-style="normal" stroke="#2a2aff" stroke-width="0.28">1</text>
<polyline points="933.2,621.2 937.3,621.2" fill="none" stroke="#666" stroke-width="1" stroke-linecap="butt" stroke-linejoin="miter"/>
<polyline points="942.8,630.8 942.8,640.4" fill="none" stroke="#111111" stroke-width="1.4" stroke-linecap="butt" stroke-linejoin="miter"/>
<text x="942.5" y="651.55" font-size="11.8" fill="#22a522" text-anchor="middle" font-weight="normal" font-style="normal" stroke="#22a522" stroke-width="0.28">O</text>
<polyline points="884.3,623.9 865.1,623.9 847.2,636 836.8,637" fill="none" stroke="#111111" stroke-width="1.4" stroke-linecap="butt" stroke-linejoin="miter"/>
<text x="827.2" y="642.25" font-size="11.8" fill="#2a2aff" text-anchor="middle" font-weight="normal" font-style="normal" stroke="#2a2aff" stroke-width="0.28">B</text>
<text x="831.7" y="637.4" font-size="8.2" fill="#2a2aff" text-anchor="start" font-weight="normal" font-style="normal" stroke="#2a2aff" stroke-width="0.28">2</text>
<polyline points="831.8,644.5 831.3,682.4" fill="none" stroke="#111111" stroke-width="1.4" stroke-linecap="butt" stroke-linejoin="miter" stroke-dasharray="3.4,2.8"/>
<polyline points="891.9,631.5 891.9,645.9" fill="none" stroke="#111111" stroke-width="1.4" stroke-linecap="butt" stroke-linejoin="miter"/>
<polyline points="891.9,645.9 906.4,661.1" fill="none" stroke="#22a522" stroke-width="1.4" stroke-linecap="butt" stroke-linejoin="miter"/>
<polyline points="906.4,661.1 927.7,661.1 938.7,652.1" fill="none" stroke="#22a522" stroke-width="1.4" stroke-linecap="butt" stroke-linejoin="miter"/>
<polyline points="909.4,664.6 924.6,664.6" fill="none" stroke="#22a522" stroke-width="1.4" stroke-linecap="butt" stroke-linejoin="miter"/>
<polyline points="927.7,661.1 932.5,676.8" fill="none" stroke="#22a522" stroke-width="1.4" stroke-linecap="butt" stroke-linejoin="miter"/>
<text x="934.3" y="686.25" font-size="11.8" fill="#22a522" text-anchor="middle" font-weight="normal" font-style="normal" stroke="#22a522" stroke-width="0.28">O</text>
<polyline points="929.1,685.8 916.7,693.8 916.7,714.7" fill="none" stroke="#22a522" stroke-width="1.4" stroke-linecap="butt" stroke-linejoin="miter"/>
<polyline points="916.7,693.8 899.5,681.4 906.4,661.1" fill="none" stroke="#22a522" stroke-width="1.4" stroke-linecap="butt" stroke-linejoin="miter"/>
<polyline points="861.6,655.5 865.8,676.2" fill="none" stroke="#22a522" stroke-width="1.4" stroke-linecap="butt" stroke-linejoin="miter"/>
<polyline points="865.8,655.2 868.8,675.2" fill="none" stroke="#22a522" stroke-width="1.4" stroke-linecap="butt" stroke-linejoin="miter"/>
<polyline points="866.4,676.8 885.4,686.1 882.3,706.4 897,721.6" fill="none" stroke="#22a522" stroke-width="1.4" stroke-linecap="butt" stroke-linejoin="miter"/>
<polyline points="882.3,706.4 867.8,709.2" fill="none" stroke="#22a522" stroke-width="1.4" stroke-linecap="butt" stroke-linejoin="miter"/>
<text x="861.3" y="714.85" font-size="11.8" fill="#22a522" text-anchor="middle" font-weight="normal" font-style="normal" stroke="#22a522" stroke-width="0.28">O</text>
<polyline points="858.2,704.4 852,690.6 866.4,676.8" fill="none" stroke="#22a522" stroke-width="1.4" stroke-linecap="butt" stroke-linejoin="miter"/>
<polyline points="852,690.6 838.2,687.2" fill="none" stroke="#22a522" stroke-width="1.4" stroke-linecap="butt" stroke-linejoin="miter"/>
<polyline points="850.8,687.4 837.8,684.6" fill="none" stroke="#22a522" stroke-width="1.4" stroke-linecap="butt" stroke-linejoin="miter"/>
<text x="831" y="693.25" font-size="11.8" fill="#22a522" text-anchor="middle" font-weight="normal" font-style="normal" stroke="#22a522" stroke-width="0.28">O</text>
<path d="M898.8,663.8 Q889,651 869.2,656.2" fill="none" stroke="#222" stroke-width="1.1"/>
<polygon points="867.75,656.58 872.83,652.61 874.12,657.54" fill="#222"/>
<path d="M927,656.9 Q919,649 909.1,656.2" fill="none" stroke="#222" stroke-width="1.1"/>
<polygon points="907.89,657.08 911.17,651.54 914.17,655.66" fill="#222"/>
<path d="M946.3,652.8 Q947.5,661 933.9,663.1" fill="none" stroke="#222" stroke-width="1.1"/>
<polygon points="932.42,663.33 937.88,659.91 938.66,664.95" fill="#222"/>
</svg></body></html>
